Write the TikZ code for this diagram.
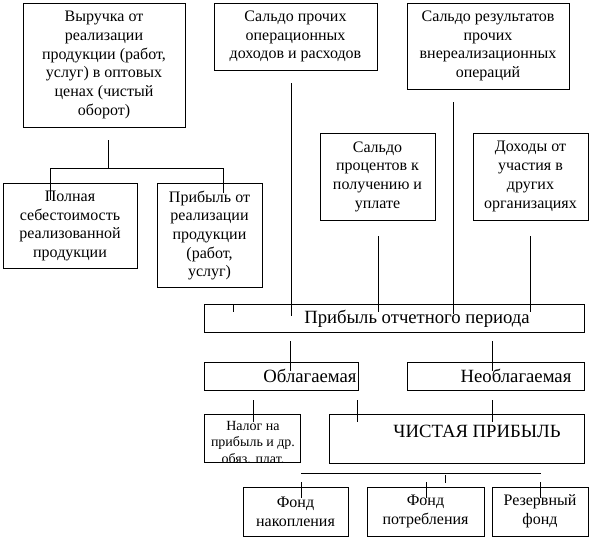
\documentclass[tikz,border=0pt]{standalone}
\usepackage{fontspec}
\setmainfont{Liberation Serif}
\newcommand\nfont{\fontsize{16}{18.7}\selectfont}
\newcommand\bfont{\fontsize{18.7}{22}\selectfont}
\newcommand\sfont{\fontsize{14}{16.5}\selectfont}
\begin{document}
\begin{tikzpicture}[x=1pt,y=-1pt,
  box/.style={draw, line width=1pt, inner sep=0pt, align=center, font=\nfont},
  big/.style={inner sep=0pt, font=\bfont},
  ln/.style={line width=1pt}]
\useasboundingbox (0,0) rectangle (591,538);
\fill[white] (0,0) rectangle (591,538);

% boxes
\node[box, minimum width=162, minimum height=124] (b1) at (104,65) {Выручка от\\реализации\\продукции (работ,\\услуг) в оптовых\\ценах (чистый\\оборот)};
\node[box, minimum width=163, minimum height=67] (b2) at (295.5,36.5) {Сальдо прочих\\операционных\\доходов и расходов};
\node[box, minimum width=162, minimum height=86] (b3) at (488,46) {Сальдо результатов\\прочих\\внереализационных\\операций};
\node[box, minimum width=115, minimum height=87] (b4) at (377.5,176.5) {Сальдо\\процентов к\\получению и\\уплате};
\node[box, minimum width=115, minimum height=87] (b5) at (530.5,176.5) {Доходы от\\участия в\\других\\организациях};
\node[box, minimum width=134, minimum height=85] (b6) at (70,226) {Полная\\себестоимость\\реализованной\\продукции};
\node[box, minimum width=105, minimum height=104] (b7) at (209.5,235.5) {Прибыль от\\реализации\\продукции\\(работ,\\услуг)};
\node[box, minimum width=380, minimum height=28] (b8) at (394,318) {};
\node[big] (t8) at (417,319) {Прибыль отчетного периода};
\node[box, minimum width=154, minimum height=28] (b9) at (281,376) {};
\node[big] (t9) at (310,376) {Облагаемая};
\node[box, minimum width=177, minimum height=28] (b10) at (495.5,376) {};
\node[big] (t10) at (516,376) {Необлагаемая};
\node[box, minimum width=96, minimum height=48] (b11) at (252,438) {};
\begin{scope}
  \clip ([xshift=0.5pt,yshift=-0.5pt]b11.north west) rectangle ([xshift=-0.5pt,yshift=1pt]b11.south east);
  \node[inner sep=0pt, align=center, font=\sfont, anchor=north] (t11) at (253,421) {Налог на\\прибыль и др.\\обяз. плат.};
\end{scope}
\node[box, minimum width=255, minimum height=49] (b12) at (456.5,438.5) {};
\node[big] (t12) at (477,431) {ЧИСТАЯ ПРИБЫЛЬ};
\node[box, minimum width=105, minimum height=49] (b13) at (295.5,511.5) {Фонд\\накопления};
\node[box, minimum width=117, minimum height=49] (b14) at (425.5,511.5) {Фонд\\потребления};
\node[box, minimum width=96, minimum height=49] (b15) at (540,511.5) {Резервный\\фонд};

% connector end points
\coordinate (c1a) at (108,140); \coordinate (c1b) at (108,168);
\coordinate (c1l) at (50,168);  \coordinate (c1r) at (223,168);
\coordinate (c1ld) at (50,200); \coordinate (c1rd) at (223,193);
\coordinate (c2a) at (291,83);  \coordinate (c2b) at (291,316);
\coordinate (c3a) at (453,102); \coordinate (c3b) at (453,314);
\coordinate (c4a) at (378,236); \coordinate (c4b) at (378,312);
\coordinate (c5a) at (530,236); \coordinate (c5b) at (530,312);
\coordinate (k1a) at (233,304); \coordinate (k1b) at (233,312);
\coordinate (c9a) at (290,341); \coordinate (c9b) at (290,371);
\coordinate (c10a) at (492,341); \coordinate (c10b) at (492,371);
\coordinate (c11a) at (253,400); \coordinate (c11b) at (253,422);
\coordinate (k2a) at (357,400); \coordinate (k2b) at (357,422);
\coordinate (c12a) at (492,400); \coordinate (c12b) at (492,422);
\coordinate (hl) at (301,473); \coordinate (hr) at (541,473);
\coordinate (k3a) at (445,475); \coordinate (k3b) at (445,483);
\coordinate (c13a) at (301,482); \coordinate (c13b) at (301,498);
\coordinate (c14a) at (426,482); \coordinate (c14b) at (426,498);
\coordinate (c15a) at (540,482); \coordinate (c15b) at (540,498);

\draw[ln] (c1a) -- (c1b);
\draw[ln] (c1ld) -- (c1l) -- (c1r) -- (c1rd);
\draw[ln] (c2a) -- (c2b);
\draw[ln] (c3a) -- (c3b);
\draw[ln] (c4a) -- (c4b);
\draw[ln] (c5a) -- (c5b);
\draw[ln] (k1a) -- (k1b);
\draw[ln] (c9a) -- (c9b);
\draw[ln] (c10a) -- (c10b);
\draw[ln] (c11a) -- (c11b);
\draw[ln] (k2a) -- (k2b);
\draw[ln] (c12a) -- (c12b);
\draw[ln] (hl) -- (hr);
\draw[ln] (k3a) -- (k3b);
\draw[ln] (c13a) -- (c13b);
\draw[ln] (c14a) -- (c14b);
\draw[ln] (c15a) -- (c15b);
\end{tikzpicture}
\end{document}
